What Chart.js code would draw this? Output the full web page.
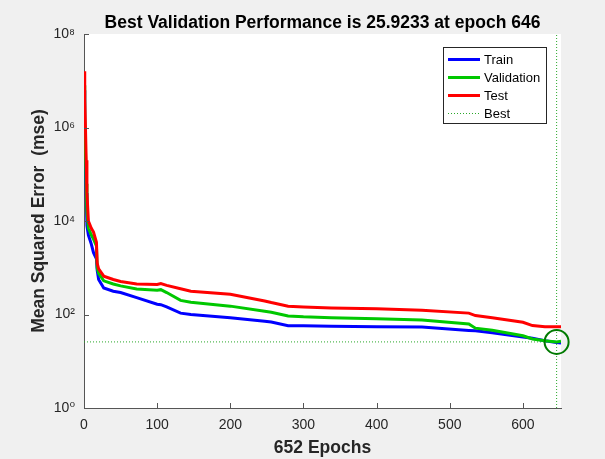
<!DOCTYPE html>
<html>
<head>
<meta charset="utf-8">
<script src="https://cdn.jsdelivr.net/npm/chart.js@4/dist/chart.umd.min.js"></script>
<style>
  html, body { margin: 0; padding: 0; background: #f0f0f0; }
  #wrap { width: 605px; height: 459px; }
</style>
</head>
<body>
<div id="wrap"><canvas id="perfChart" width="605" height="459"></canvas></div>
<script>
/* =========================
   DATA
========================= */
const epochs = [0, 1, 2, 3, 4, 6, 10, 13, 17, 18, 20, 27, 40, 50, 72, 100, 105, 113, 132, 146,
  200, 247, 256, 279, 300, 338, 400, 462, 526, 535, 558, 600, 613, 630, 646, 652];

const trainMse = [6.3e6, 1e6, 2e5, 4e4, 8000, 5000, 3200, 2100, 1550, 890, 560, 370, 315, 295, 230, 166, 162, 145, 107, 100,
  85, 72, 69, 57.5, 57.5, 56, 55, 53.7, 45.7, 44.7, 40.7, 33, 31, 27.5, 25.1, 24.5];

const validMse = [8e6, 1.6e6, 3.2e5, 6.3e4, 1.6e4, 7000, 5000, 4100, 2950, 1000, 760, 525, 450, 410, 350, 330, 340, 295, 200, 182,
  151, 117, 112, 93, 89, 85, 81, 76, 63, 51, 46, 35, 30, 27.5, 25.92, 26.9];

const testMse = [1.6e7, 4e6, 1e6, 2e5, 4e4, 1e4, 7000, 5800, 3500, 1250, 950, 660, 560, 510, 450, 440, 460, 420, 355, 315,
  270, 195, 180, 150, 145, 138, 132, 123, 107, 95, 85, 68, 58, 55, 55, 55];

const bestEpoch = 646;
const bestPerf = 25.9233;
const maxEpoch = 652;

const xTicks = [0, 100, 200, 300, 400, 500, 600];
const yTicks = [1, 1e2, 1e4, 1e6, 1e8];
const yTickLabels = ['10\u2070', '10\u00B2', '10\u2074', '10\u2076', '10\u2078'];

const titleText = 'Best Validation Performance is 25.9233 at epoch 646';

const FONT = '"Liberation Sans", Arial, "DejaVu Sans", sans-serif';

function pts(xs, ys) {
  return xs.map((x, i) => ({ x: x, y: ys[i] }));
}

/* =========================
   PLUGINS
========================= */
const backdrop = {
  id: 'backdrop',
  beforeDraw(chart) {
    const { ctx, chartArea: a } = chart;
    ctx.save();
    ctx.fillStyle = '#f0f0f0';
    ctx.fillRect(0, 0, chart.width, chart.height);
    ctx.fillStyle = '#ffffff';
    ctx.fillRect(a.left, a.top, a.right - a.left, a.bottom - a.top);
    ctx.restore();
  }
};

// title centered over the axes, tick marks pointing inward
const decorations = {
  id: 'decorations',
  afterDraw(chart) {
    const { ctx, chartArea: a } = chart;
    const xs = chart.scales.x, ys = chart.scales.y;
    ctx.save();
    ctx.fillStyle = '#000';
    ctx.font = 'bold 17.5px ' + FONT;
    ctx.textAlign = 'center';
    ctx.textBaseline = 'alphabetic';
    ctx.fillText(titleText, (a.left + a.right) / 2, 28);

    ctx.strokeStyle = '#555';
    ctx.lineWidth = 1;
    ctx.beginPath();
    xTicks.forEach(v => {
      const px = Math.round(xs.getPixelForValue(v)) + 0.5;
      ctx.moveTo(px, a.bottom);
      ctx.lineTo(px, a.bottom - 5);
    });
    yTicks.forEach(v => {
      const py = Math.round(ys.getPixelForValue(v)) + 0.5;
      ctx.moveTo(a.left, py);
      ctx.lineTo(a.left + 5, py);
    });
    ctx.stroke();
    ctx.restore();
  }
};

const boxLegend = {
  id: 'boxLegend',
  afterDraw(chart) {
    const ctx = chart.ctx;
    const items = chart.data.datasets.filter(d => d.label);
    const x0 = 443.5, y0 = 47.5, w = 103, h = 76;
    ctx.save();
    ctx.fillStyle = '#fff';
    ctx.fillRect(x0, y0, w, h);
    ctx.strokeStyle = '#262626';
    ctx.lineWidth = 1;
    ctx.strokeRect(x0, y0, w, h);
    ctx.font = '13px ' + FONT;
    ctx.textBaseline = 'middle';
    ctx.fillStyle = '#000';
    items.forEach((d, i) => {
      const y = 59.5 + i * 18;
      ctx.beginPath();
      ctx.strokeStyle = d.borderColor;
      ctx.lineWidth = d.borderWidth;
      ctx.setLineDash(d.borderDash || []);
      ctx.moveTo(448, y);
      ctx.lineTo(480, y);
      ctx.stroke();
      ctx.setLineDash([]);
      ctx.fillText(d.label, 484, y + 1);
    });
    ctx.restore();
  }
};

/* =========================
   CHART
========================= */
const ctx = document.getElementById('perfChart').getContext('2d');

new Chart(ctx, {
  type: 'line',
  data: {
    datasets: [
      {
        label: 'Train',
        data: pts(epochs, trainMse),
        borderColor: '#0000ff',
        borderWidth: 3,
        pointRadius: 0,
        order: 3
      },
      {
        label: 'Validation',
        data: pts(epochs, validMse),
        borderColor: '#00c800',
        borderWidth: 3,
        pointRadius: 0,
        order: 2
      },
      {
        label: 'Test',
        data: pts(epochs, testMse),
        borderColor: '#ff0000',
        borderWidth: 3,
        pointRadius: 0,
        order: 1
      },
      {
        label: 'Best',
        data: [{ x: bestEpoch, y: 1 }, { x: bestEpoch, y: 1e8 }],
        borderColor: '#2aa82a',
        borderWidth: 1,
        borderDash: [1, 2],
        pointRadius: 0,
        order: 5
      },
      {
        label: '',
        data: [{ x: 0, y: bestPerf }, { x: maxEpoch, y: bestPerf }],
        borderColor: '#2aa82a',
        borderWidth: 1,
        borderDash: [1, 2],
        pointRadius: 0,
        order: 5
      },
      {
        label: '',
        data: [{ x: bestEpoch, y: bestPerf }],
        showLine: false,
        pointRadius: 12,
        pointBorderWidth: 2,
        pointBorderColor: '#007a00',
        pointBackgroundColor: 'rgba(0,0,0,0)',
        clip: false,
        order: 0
      }
    ]
  },
  options: {
    responsive: false,
    animation: false,
    layout: { padding: { top: 34, right: 44, bottom: 0, left: 0 } },
    plugins: {
      legend: { display: false },
      title: { display: false },
      tooltip: { enabled: false }
    },
    scales: {
      x: {
        type: 'linear',
        min: 0,
        max: maxEpoch,
        afterBuildTicks: (s) => { s.ticks = xTicks.map(v => ({ value: v })); },
        afterFit: (s) => { s.height = 51; },
        grid: { display: false, drawTicks: false },
        border: { display: true, color: '#555', width: 1 },
        ticks: {
          color: '#262626',
          padding: 9,
          maxRotation: 0,
          font: { family: FONT, size: 14 }
        },
        title: {
          display: true,
          text: '652 Epochs',
          color: '#262626',
          font: { family: FONT, size: 17.5, weight: 'bold' },
          padding: { top: 0, bottom: 0 }
        }
      },
      y: {
        type: 'logarithmic',
        min: 1,
        max: 1e8,
        afterBuildTicks: (s) => { s.ticks = yTicks.map(v => ({ value: v })); },
        afterFit: (s) => { s.width = 84; },
        grid: { display: false, drawTicks: false },
        border: { display: true, color: '#555', width: 1 },
        ticks: {
          color: '#262626',
          padding: 9,
          font: { family: FONT, size: 14 },
          callback: (value) => yTickLabels[yTicks.indexOf(value)]
        },
        title: {
          display: true,
          text: 'Mean Squared Error  (mse)',
          color: '#262626',
          font: { family: FONT, size: 17.5, weight: 'bold' },
          padding: { top: 29, bottom: 0 }
        }
      }
    }
  },
  plugins: [backdrop, decorations, boxLegend]
});
</script>
</body>
</html>
